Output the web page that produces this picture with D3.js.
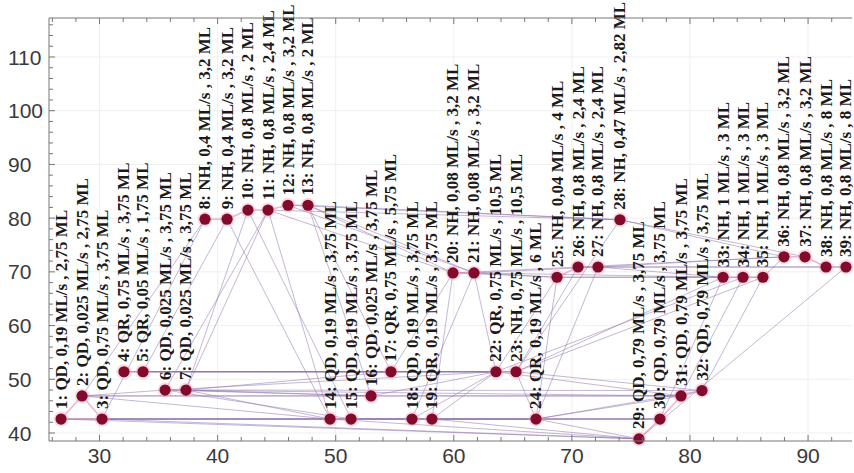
<!DOCTYPE html>
<html>
<head>
<meta charset="utf-8">
<script src="https://cdn.jsdelivr.net/npm/d3@7"></script>
<style>
  html, body { margin: 0; padding: 0; background: #fff; }
  svg { display: block; }
</style>
</head>
<body>
<svg id="chart" width="854" height="473"></svg>
<script>
// Experiment runs: x position, response value, and the run settings shown in each label
const xValues = [26.74, 28.52, 30.21, 32.07, 33.68, 35.55, 37.32, 38.93, 40.80, 42.57,
                 44.27, 45.96, 47.65, 49.52, 51.30, 52.99, 54.68, 56.46, 58.15, 59.93,
                 61.71, 63.57, 65.27, 66.96, 68.74, 70.52, 72.21, 74.07, 75.68, 77.46,
                 79.24, 81.02, 82.80, 84.49, 86.18, 87.96, 89.74, 91.52, 93.21];
const yValues = [42.6, 46.9, 42.6, 51.4, 51.4, 48.0, 48.0, 79.8, 79.8, 81.5,
                 81.5, 82.4, 82.4, 42.6, 42.6, 46.9, 51.4, 42.6, 42.6, 69.8,
                 69.8, 51.4, 51.4, 42.6, 69.0, 70.9, 70.9, 79.7, 38.9, 42.6,
                 46.9, 47.9, 69.0, 69.0, 69.0, 72.8, 72.8, 70.9, 70.9];
const methods = ["QD","QD","QD","QR","QR","QD","QD","NH","NH","NH",
                 "NH","NH","NH","QD","QD","QD","QR","QD","QR","NH",
                 "NH","QR","NH","QR","NH","NH","NH","NH","QD","QD",
                 "QD","QD","NH","NH","NH","NH","NH","NH","NH"];
const rates = ["0,19","0,025","0,75","0,75","0,05","0,025","0,025","0,4","0,4","0,8",
               "0,8","0,8","0,8","0,19","0,19","0,025","0,75","0,19","0,19","0,08",
               "0,08","0,75","0,75","0,19","0,04","0,8","0,8","0,47","0,79","0,79",
               "0,79","0,79","1","1","1","0,8","0,8","0,8","0,8"];
const volumes = ["2,75","2,75","3,75","3,75","1,75","3,75","3,75","3,2","3,2","2",
                 "2,4","3,2","2","3,75","3,75","3,75","5,75","3,75","3,75","3,2",
                 "3,2","10,5","10,5","6","4","2,4","2,4","2,82","3,75","3,75",
                 "3,75","3,75","3","3","3","3,2","3,2","8","8"];

// Links between runs (1-based run numbers); neighbours are drawn stronger
const neighbourLinks = [[1,3],[4,5],[6,7],[8,9],[9,10],[10,11],[11,12],[12,13],[14,15],
  [18,19],[20,21],[22,23],[25,26],[26,27],[33,34],[34,35],[36,37],[37,38],[38,39],
  [29,30],[30,31],[31,32],[1,2],[2,3]];
const crossLinks = [
  [13,28],[12,28],[13,20],[13,21],[11,20],[12,21],[11,28],
  [21,25],[27,33],[27,36],[21,27],[20,26],[26,38],[27,39],[28,36],[28,37],[21,33],[25,35],[35,36],[26,36],[20,25],[25,33],
  [5,17],[4,17],[17,22],[5,22],[23,33],[22,34],[23,35],[17,23],[4,22],[5,23],
  [2,6],[7,16],[2,16],[6,16],[16,31],[7,32],[7,17],[16,22],[6,22],[6,31],[2,31],
  [3,14],[15,18],[19,24],[24,30],[1,14],[1,29],[3,29],[14,29],[15,24],[18,30],[24,29],[3,18],[7,14],[6,15],[2,14],[1,24],[3,30],[14,30],
  [29,39],[30,33],[31,34],[32,35],
  [3,8],[2,8],[7,10],[6,11],[7,11],[14,11],[15,10],[16,13],[17,13],[14,9],[5,9],
  [19,20],[18,21],[17,20],[22,25],[23,26],[24,27],[24,25],[22,21],[23,28],[19,22],[18,22],[24,23],
  [24,31],[24,32],[19,29],[23,32],[22,31]
];

const xTicks = [30, 40, 50, 60, 70, 80, 90];
const yTicks = [40, 50, 60, 70, 80, 90, 100, 110];

const svg = d3.select("#chart");
const plot = { left: 49, right: 852, top: 18, bottom: 441 };

const x = d3.scaleLinear().domain([25.72, 93.72]).range([plot.left, plot.right]);
const y = d3.scaleLinear().domain([38.51, 117.26]).range([plot.bottom, plot.top]);

const runs = xValues.map((v, i) => ({
  id: i + 1, x: v, y: yValues[i],
  label: `${i + 1}: ${methods[i]}, ${rates[i]} ML/s , ${volumes[i]} ML`
}));

// faint grid at major ticks
const grid = svg.append("g");
grid.selectAll("line.gx").data(xTicks).join("line")
  .attr("x1", d => x(d)).attr("x2", d => x(d))
  .attr("y1", plot.top).attr("y2", plot.bottom)
  .attr("stroke", "#efefef").attr("stroke-width", 1);
grid.selectAll("line.gy").data(yTicks).join("line")
  .attr("x1", plot.left).attr("x2", plot.right)
  .attr("y1", d => y(d)).attr("y2", d => y(d))
  .attr("stroke", "#efefef").attr("stroke-width", 1);

// link lines
const links = svg.append("g");
links.selectAll("line.cross").data(crossLinks).join("line")
  .attr("x1", d => x(runs[d[0] - 1].x)).attr("y1", d => y(runs[d[0] - 1].y))
  .attr("x2", d => x(runs[d[1] - 1].x)).attr("y2", d => y(runs[d[1] - 1].y))
  .attr("stroke", "rgba(140,110,170,0.5)").attr("stroke-width", 1);
links.selectAll("line.near").data(neighbourLinks).join("line")
  .attr("x1", d => x(runs[d[0] - 1].x)).attr("y1", d => y(runs[d[0] - 1].y))
  .attr("x2", d => x(runs[d[1] - 1].x)).attr("y2", d => y(runs[d[1] - 1].y))
  .attr("stroke", "rgba(215,125,170,0.55)").attr("stroke-width", 1.6);

// run markers
const dots = svg.append("g");
dots.selectAll("circle.halo").data(runs).join("circle")
  .attr("cx", d => x(d.x)).attr("cy", d => y(d.y)).attr("r", 7.5)
  .attr("fill", "rgba(240,165,190,0.4)");
dots.selectAll("circle.dot").data(runs).join("circle")
  .attr("cx", d => x(d.x)).attr("cy", d => y(d.y)).attr("r", 5.6)
  .attr("fill", "#820b2b");

// vertical run labels; shrink any that would run past the top edge
const labelSize = 17;
svg.append("g").selectAll("text").data(runs).join("text")
  .attr("transform", d => `translate(${x(d.x)},${y(d.y) - 10}) rotate(-90)`)
  .attr("dominant-baseline", "central")
  .attr("font-family", "'Liberation Serif', 'Times New Roman', serif")
  .attr("font-weight", "bold")
  .attr("font-size", labelSize)
  .attr("fill", "#1a1a1a")
  .text(d => d.label)
  .each(function(d) {
    const room = y(d.y) - 10 - 1;
    const len = this.getComputedTextLength();
    if (len > room) d3.select(this).attr("font-size", labelSize * room / len);
  });

// axes frame with inward ticks
const axes = svg.append("g").attr("stroke", "#777").attr("fill", "none");
axes.append("line").attr("x1", plot.left).attr("x2", plot.left).attr("y1", plot.top).attr("y2", plot.bottom);
axes.append("line").attr("x1", plot.left).attr("x2", plot.right).attr("y1", plot.bottom).attr("y2", plot.bottom);
axes.append("line").attr("x1", plot.left).attr("x2", plot.right).attr("y1", plot.top).attr("y2", plot.top);

const xMinor = d3.range(26, 94, 2);
const yMinor = d3.range(40, 118, 2);
axes.selectAll("line.xb").data(xMinor).join("line")
  .attr("x1", d => x(d)).attr("x2", d => x(d))
  .attr("y1", plot.bottom).attr("y2", d => plot.bottom - (d % 10 === 0 ? 6 : 4));
axes.selectAll("line.xt").data(xMinor).join("line")
  .attr("x1", d => x(d)).attr("x2", d => x(d))
  .attr("y1", plot.top).attr("y2", d => plot.top + (d % 10 === 0 ? 6 : 4));
axes.selectAll("line.yl").data(yMinor).join("line")
  .attr("x1", plot.left).attr("x2", d => plot.left + (d % 10 === 0 ? 6 : 4))
  .attr("y1", d => y(d)).attr("y2", d => y(d));

// tick labels
svg.append("g").selectAll("text").data(xTicks).join("text")
  .attr("x", d => x(d)).attr("y", 463)
  .attr("text-anchor", "middle")
  .attr("font-family", "'Liberation Sans', Arial, sans-serif")
  .attr("font-size", 21).attr("fill", "#3a3a3a")
  .text(d => d);
svg.append("g").selectAll("text").data(yTicks).join("text")
  .attr("x", 8).attr("y", d => y(d)).attr("dy", "0.36em")
  .attr("text-anchor", "start")
  .attr("font-family", "'Liberation Sans', Arial, sans-serif")
  .attr("font-size", 21).attr("fill", "#3a3a3a")
  .text(d => d);
</script>
</body>
</html>
